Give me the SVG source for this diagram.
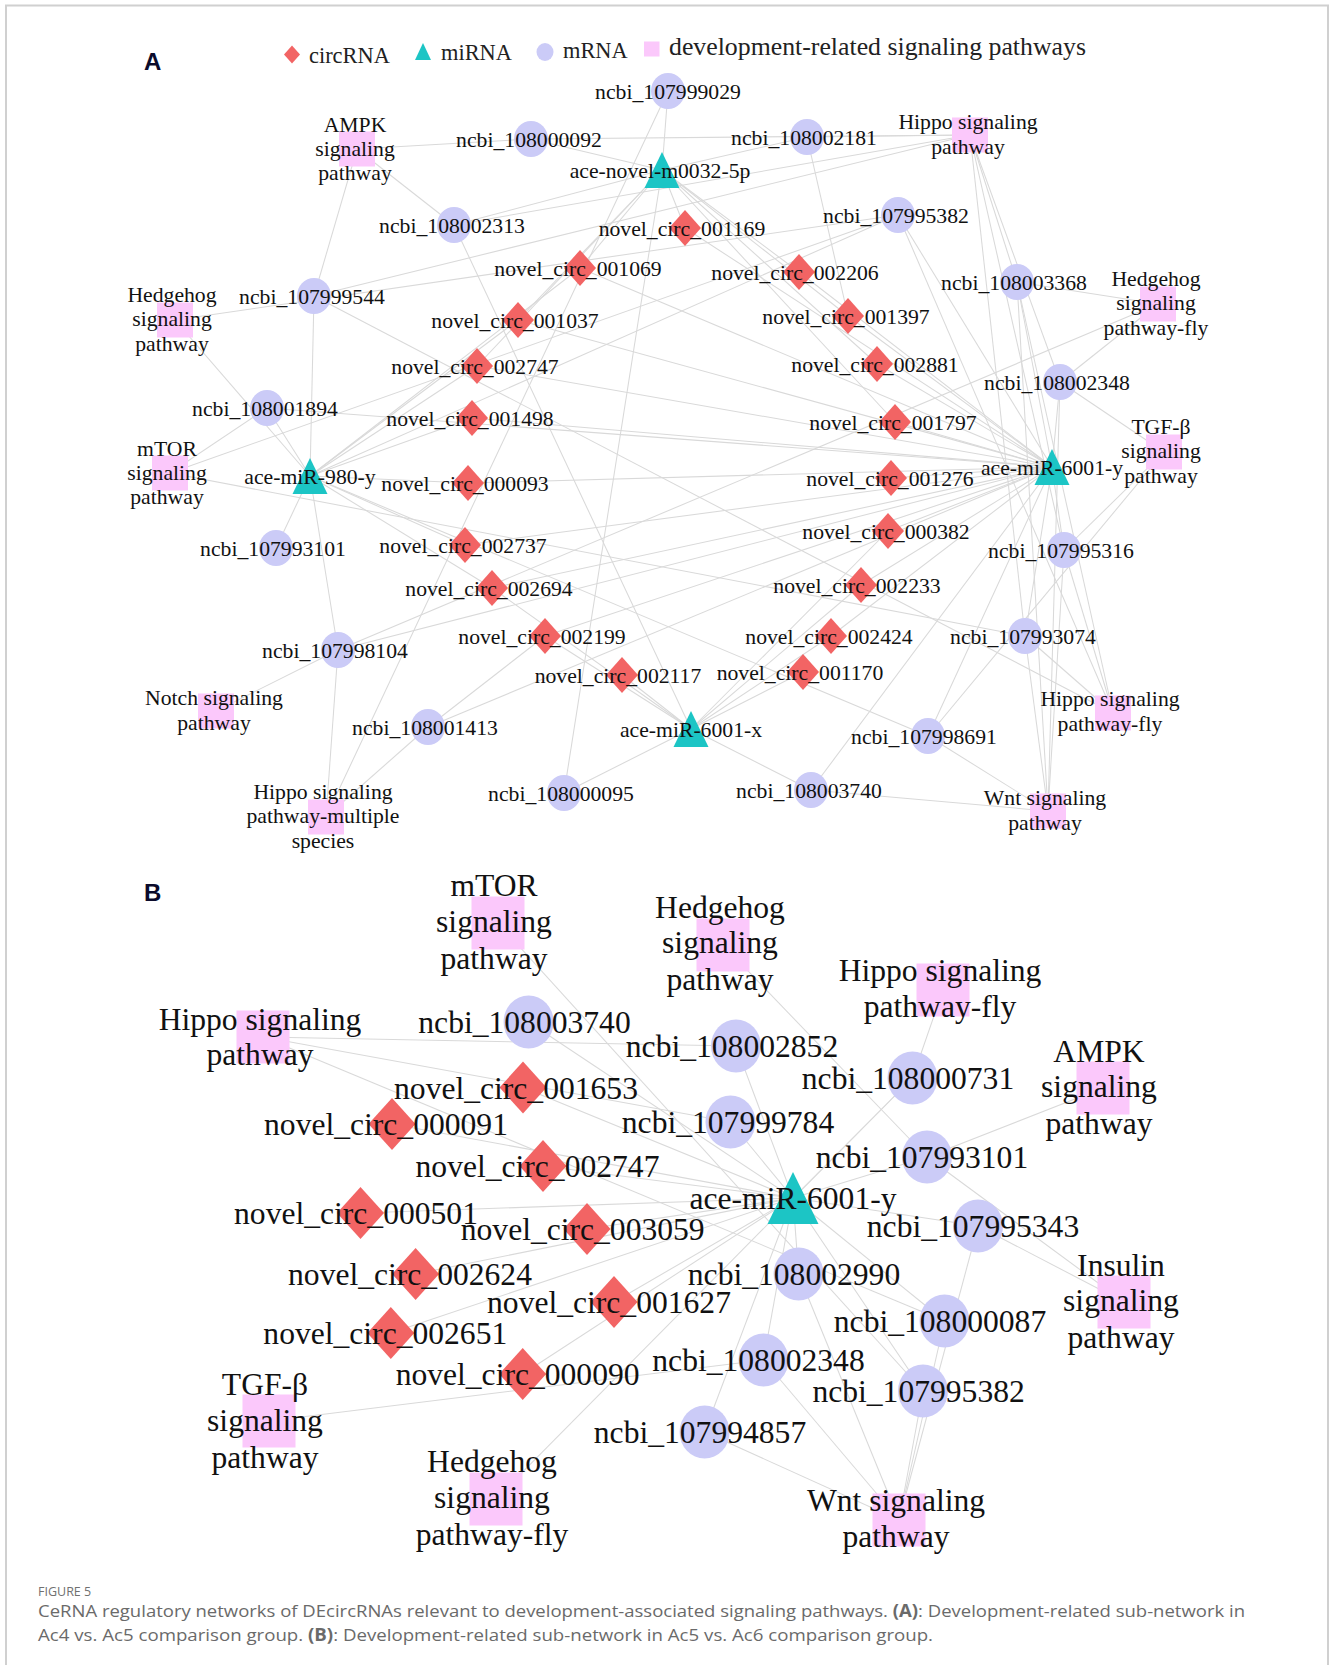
<svg xmlns="http://www.w3.org/2000/svg" xmlns:xlink="http://www.w3.org/1999/xlink" width="1330" height="1665" viewBox="0 0 1330 1665">
<style>
.e line{stroke:#d9d9d9;stroke-width:1.05}
.circ{fill:#f26464}
.mrna{fill:#cbcbf7}
.mir{fill:#1cc5c5}
.path{fill:#fbc8fb}
.la{font-family:"Liberation Serif","Times New Roman",serif;font-size:21.7px;text-anchor:middle;fill:#111}
.lb{font-family:"Liberation Serif","Times New Roman",serif;font-size:31.6px;text-anchor:middle;fill:#111}
.lg{font-family:"Liberation Serif","Times New Roman",serif;font-size:22.4px;fill:#222}
.pl{font-family:"Liberation Sans",Arial,sans-serif;font-weight:bold;font-size:24px;fill:#0b0b2b}
.cap{font-family:"Open Sans","Noto Sans",sans-serif;fill:#6a6a6a}
</style>
<defs>
<polygon id="dA" class="circ" points="0,-18 16,0 0,18 -16,0"/>
<ellipse id="cA" class="mrna" rx="17" ry="18"/>
<polygon id="tA" class="mir" points="0,-18 17.5,18 -17.5,18"/>
<rect id="sA" class="path" x="-18" y="-17.5" width="36" height="35"/>
<polygon id="dB" class="circ" points="0,-26 23.5,0 0,26 -23.5,0"/>
<ellipse id="cB" class="mrna" rx="25" ry="26.5"/>
<polygon id="tB" class="mir" points="0,-26 25.5,26 -25.5,26"/>
<rect id="sB" class="path" x="-26.5" y="-26.5" width="53" height="53"/>
</defs>
<rect x="0" y="0" width="1330" height="1665" fill="#fff"/>
<rect x="6" y="5.5" width="1322" height="1700" fill="none" stroke="#d0d0d0" stroke-width="2"/>

<!-- Panel labels -->
<text class="pl" x="144" y="70">A</text>
<text class="pl" x="144" y="901">B</text>

<!-- Legend -->
<g id="legend">
<polygon class="circ" points="292,45.5 300,54.5 292,63.5 284,54.5"/>
<text class="lg" x="309" y="62.5">circRNA</text>
<polygon class="mir" points="423,43 431,60 415,60"/>
<text class="lg" x="441" y="59.5">miRNA</text>
<ellipse class="mrna" cx="545" cy="52" rx="8.5" ry="9"/>
<text class="lg" x="563" y="57.5">mRNA</text>
<rect class="path" x="644" y="41.5" width="15.5" height="15"/>
<text class="lg" x="669" y="55" style="font-size:25.8px">development-related signaling pathways</text>
</g>

<!-- Connectors panel A -->
<g id="edges-A" class="e">
<line x1="662" y1="170" x2="668" y2="91"/><line x1="662" y1="170" x2="531" y2="139"/><line x1="662" y1="170" x2="807" y2="137"/><line x1="662" y1="170" x2="454" y2="225"/><line x1="662" y1="170" x2="564" y2="793"/><line x1="662" y1="170" x2="685" y2="228"/><line x1="662" y1="170" x2="580" y2="268"/><line x1="662" y1="170" x2="799" y2="272"/><line x1="662" y1="170" x2="848" y2="316"/><line x1="662" y1="170" x2="877" y2="364"/><line x1="662" y1="170" x2="518" y2="320"/><line x1="662" y1="170" x2="895" y2="422"/><line x1="662" y1="170" x2="477" y2="366"/>
<line x1="1052" y1="467" x2="685" y2="228"/><line x1="1052" y1="467" x2="580" y2="268"/><line x1="1052" y1="467" x2="799" y2="272"/><line x1="1052" y1="467" x2="518" y2="320"/><line x1="1052" y1="467" x2="848" y2="316"/><line x1="1052" y1="467" x2="477" y2="366"/><line x1="1052" y1="467" x2="877" y2="364"/><line x1="1052" y1="467" x2="472" y2="418"/><line x1="1052" y1="467" x2="895" y2="422"/><line x1="1052" y1="467" x2="468" y2="483"/><line x1="1052" y1="467" x2="891" y2="478"/><line x1="1052" y1="467" x2="465" y2="545"/><line x1="1052" y1="467" x2="888" y2="531"/><line x1="1052" y1="467" x2="492" y2="588"/><line x1="1052" y1="467" x2="861" y2="585"/><line x1="1052" y1="467" x2="545" y2="636"/><line x1="1052" y1="467" x2="831" y2="636"/><line x1="1052" y1="467" x2="1060" y2="382"/><line x1="1052" y1="467" x2="1017" y2="282"/><line x1="1052" y1="467" x2="1064" y2="550"/><line x1="1052" y1="467" x2="1025" y2="636"/><line x1="1052" y1="467" x2="928" y2="736"/><line x1="1052" y1="467" x2="898" y2="215"/><line x1="1052" y1="467" x2="811" y2="790"/><line x1="1052" y1="467" x2="338" y2="650"/><line x1="1052" y1="467" x2="428" y2="727"/><line x1="1052" y1="467" x2="267" y2="408"/>
<line x1="310" y1="476" x2="314" y2="296"/><line x1="310" y1="476" x2="267" y2="408"/><line x1="310" y1="476" x2="276" y2="548"/><line x1="310" y1="476" x2="338" y2="650"/><line x1="310" y1="476" x2="898" y2="215"/><line x1="310" y1="476" x2="928" y2="736"/><line x1="310" y1="476" x2="477" y2="366"/><line x1="310" y1="476" x2="472" y2="418"/><line x1="310" y1="476" x2="468" y2="483"/><line x1="310" y1="476" x2="465" y2="545"/><line x1="310" y1="476" x2="580" y2="268"/><line x1="310" y1="476" x2="518" y2="320"/><line x1="310" y1="476" x2="492" y2="588"/><line x1="310" y1="476" x2="175" y2="320"/>
<line x1="691" y1="729" x2="564" y2="793"/><line x1="691" y1="729" x2="811" y2="790"/><line x1="691" y1="729" x2="454" y2="225"/><line x1="691" y1="729" x2="622" y2="675"/><line x1="691" y1="729" x2="545" y2="636"/><line x1="691" y1="729" x2="803" y2="672"/><line x1="691" y1="729" x2="831" y2="636"/><line x1="691" y1="729" x2="861" y2="585"/><line x1="691" y1="729" x2="888" y2="531"/><line x1="691" y1="729" x2="492" y2="588"/>
<line x1="357" y1="149" x2="531" y2="139"/><line x1="357" y1="149" x2="454" y2="225"/><line x1="357" y1="149" x2="314" y2="296"/>
<line x1="970" y1="135" x2="454" y2="225"/><line x1="970" y1="135" x2="314" y2="296"/><line x1="970" y1="135" x2="531" y2="139"/><line x1="970" y1="135" x2="807" y2="137"/><line x1="970" y1="135" x2="1017" y2="282"/><line x1="970" y1="135" x2="1060" y2="382"/><line x1="970" y1="135" x2="1064" y2="550"/><line x1="970" y1="135" x2="1025" y2="636"/>
<line x1="175" y1="320" x2="898" y2="215"/>
<line x1="1158" y1="304" x2="1060" y2="382"/><line x1="1158" y1="304" x2="338" y2="650"/><line x1="1158" y1="304" x2="1017" y2="282"/>
<line x1="170" y1="473" x2="267" y2="408"/><line x1="170" y1="473" x2="898" y2="215"/><line x1="170" y1="473" x2="1025" y2="636"/>
<line x1="1164" y1="452" x2="1060" y2="382"/><line x1="1164" y1="452" x2="1064" y2="550"/><line x1="1164" y1="452" x2="928" y2="736"/>
<line x1="216" y1="711" x2="338" y2="650"/>
<line x1="1113" y1="713" x2="1025" y2="636"/><line x1="1113" y1="713" x2="1064" y2="550"/><line x1="1113" y1="713" x2="1017" y2="282"/><line x1="1113" y1="713" x2="898" y2="215"/><line x1="1113" y1="713" x2="314" y2="296"/>
<line x1="326" y1="817" x2="338" y2="650"/><line x1="326" y1="817" x2="428" y2="727"/><line x1="326" y1="817" x2="668" y2="91"/>
<line x1="1048" y1="811" x2="811" y2="790"/><line x1="1048" y1="811" x2="928" y2="736"/><line x1="1048" y1="811" x2="1025" y2="636"/><line x1="1048" y1="811" x2="1064" y2="550"/><line x1="1048" y1="811" x2="1060" y2="382"/><line x1="1048" y1="811" x2="1017" y2="282"/>
<line x1="807" y1="137" x2="848" y2="316"/><line x1="428" y1="727" x2="545" y2="636"/>
</g>

<!-- Connectors panel B -->
<g id="edges-B" class="e">
<line x1="793" y1="1198" x2="523" y2="1087.5"/><line x1="793" y1="1198" x2="392" y2="1124"/><line x1="793" y1="1198" x2="543" y2="1166"/><line x1="793" y1="1198" x2="360.5" y2="1213"/><line x1="793" y1="1198" x2="587" y2="1229"/><line x1="793" y1="1198" x2="415.6" y2="1274"/><line x1="793" y1="1198" x2="614" y2="1302"/><line x1="793" y1="1198" x2="390.8" y2="1333"/><line x1="793" y1="1198" x2="522.7" y2="1374"/>
<line x1="793" y1="1198" x2="528.6" y2="1022"/><line x1="793" y1="1198" x2="736" y2="1046"/><line x1="793" y1="1198" x2="912.5" y2="1078"/><line x1="793" y1="1198" x2="730.5" y2="1122"/><line x1="793" y1="1198" x2="927" y2="1157"/><line x1="793" y1="1198" x2="978" y2="1226"/><line x1="793" y1="1198" x2="798.6" y2="1274"/><line x1="793" y1="1198" x2="944.5" y2="1321"/><line x1="793" y1="1198" x2="763.5" y2="1360"/><line x1="793" y1="1198" x2="923" y2="1391"/><line x1="793" y1="1198" x2="704.6" y2="1432"/>
<line x1="263" y1="1037" x2="736" y2="1046"/><line x1="263" y1="1037" x2="730.5" y2="1122"/><line x1="263" y1="1037" x2="944.5" y2="1321"/>
<line x1="498" y1="923" x2="923" y2="1391"/>
<line x1="723" y1="945" x2="927" y2="1157"/>
<line x1="943" y1="990" x2="912.5" y2="1078"/>
<line x1="1103" y1="1088" x2="927" y2="1157"/>
<line x1="1124" y1="1302" x2="978" y2="1226"/><line x1="1124" y1="1302" x2="927" y2="1157"/>
<line x1="899" y1="1520" x2="923" y2="1391"/><line x1="899" y1="1520" x2="944.5" y2="1321"/><line x1="899" y1="1520" x2="978" y2="1226"/><line x1="899" y1="1520" x2="704.6" y2="1432"/><line x1="899" y1="1520" x2="763.5" y2="1360"/><line x1="899" y1="1520" x2="798.6" y2="1274"/>
<line x1="269" y1="1421" x2="763.5" y2="1360"/>
<line x1="496" y1="1499" x2="912.5" y2="1078"/>
</g>

<!-- Panel A nodes -->
<g id="a-ncbi_107999029"><use href="#cA" x="668" y="91"/><text class="la" x="668" y="98.5">ncbi_107999029</text></g>
<g id="a-ncbi_108000092"><use href="#cA" x="531" y="139"/><text class="la" x="529" y="146.5">ncbi_108000092</text></g>
<g id="a-ncbi_108002181"><use href="#cA" x="807" y="137"/><text class="la" x="804" y="144.5">ncbi_108002181</text></g>
<g id="a-ncbi_108002313"><use href="#cA" x="454" y="225"/><text class="la" x="452" y="232.5">ncbi_108002313</text></g>
<g id="a-ncbi_107995382"><use href="#cA" x="898" y="215"/><text class="la" x="896" y="222.5">ncbi_107995382</text></g>
<g id="a-ncbi_107999544"><use href="#cA" x="314" y="296"/><text class="la" x="312" y="303.5">ncbi_107999544</text></g>
<g id="a-ncbi_108003368"><use href="#cA" x="1017" y="282"/><text class="la" x="1014" y="289.5">ncbi_108003368</text></g>
<g id="a-ncbi_108001894"><use href="#cA" x="267" y="408"/><text class="la" x="265" y="415.5">ncbi_108001894</text></g>
<g id="a-ncbi_108002348"><use href="#cA" x="1060" y="382"/><text class="la" x="1057" y="389.5">ncbi_108002348</text></g>
<g id="a-ncbi_107993101"><use href="#cA" x="276" y="548"/><text class="la" x="273" y="555.5">ncbi_107993101</text></g>
<g id="a-ncbi_107995316"><use href="#cA" x="1064" y="550"/><text class="la" x="1061" y="557.5">ncbi_107995316</text></g>
<g id="a-ncbi_107998104"><use href="#cA" x="338" y="650"/><text class="la" x="335" y="657.5">ncbi_107998104</text></g>
<g id="a-ncbi_107993074"><use href="#cA" x="1025" y="636"/><text class="la" x="1023" y="643.5">ncbi_107993074</text></g>
<g id="a-ncbi_108001413"><use href="#cA" x="428" y="727"/><text class="la" x="425" y="734.5">ncbi_108001413</text></g>
<g id="a-ncbi_107998691"><use href="#cA" x="928" y="736"/><text class="la" x="924" y="743.5">ncbi_107998691</text></g>
<g id="a-ncbi_108000095"><use href="#cA" x="564" y="793"/><text class="la" x="561" y="800.5">ncbi_108000095</text></g>
<g id="a-ncbi_108003740"><use href="#cA" x="811" y="790"/><text class="la" x="809" y="797.5">ncbi_108003740</text></g>

<g id="a-ace-novel-m0032-5p"><use href="#tA" x="662" y="170"/><text class="la" x="660" y="177.5">ace-novel-m0032-5p</text></g>
<g id="a-ace-miR-980-y"><use href="#tA" x="310" y="476"/><text class="la" x="310" y="483.5">ace-miR-980-y</text></g>
<g id="a-ace-miR-6001-y"><use href="#tA" x="1052" y="467"/><text class="la" x="1052" y="474.5">ace-miR-6001-y</text></g>
<g id="a-ace-miR-6001-x"><use href="#tA" x="691" y="729"/><text class="la" x="691" y="736.5">ace-miR-6001-x</text></g>

<g id="a-novel_circ_001169"><use href="#dA" x="685" y="228"/><text class="la" x="682" y="235.5">novel_circ_001169</text></g>
<g id="a-novel_circ_001069"><use href="#dA" x="580" y="268"/><text class="la" x="578" y="275.5">novel_circ_001069</text></g>
<g id="a-novel_circ_002206"><use href="#dA" x="799" y="272"/><text class="la" x="795" y="279.5">novel_circ_002206</text></g>
<g id="a-novel_circ_001037"><use href="#dA" x="518" y="320"/><text class="la" x="515" y="327.5">novel_circ_001037</text></g>
<g id="a-novel_circ_001397"><use href="#dA" x="848" y="316"/><text class="la" x="846" y="323.5">novel_circ_001397</text></g>
<g id="a-novel_circ_002747"><use href="#dA" x="477" y="366"/><text class="la" x="475" y="373.5">novel_circ_002747</text></g>
<g id="a-novel_circ_002881"><use href="#dA" x="877" y="364"/><text class="la" x="875" y="371.5">novel_circ_002881</text></g>
<g id="a-novel_circ_001498"><use href="#dA" x="472" y="418"/><text class="la" x="470" y="425.5">novel_circ_001498</text></g>
<g id="a-novel_circ_001797"><use href="#dA" x="895" y="422"/><text class="la" x="893" y="429.5">novel_circ_001797</text></g>
<g id="a-novel_circ_000093"><use href="#dA" x="468" y="483"/><text class="la" x="465" y="490.5">novel_circ_000093</text></g>
<g id="a-novel_circ_001276"><use href="#dA" x="891" y="478"/><text class="la" x="890" y="485.5">novel_circ_001276</text></g>
<g id="a-novel_circ_002737"><use href="#dA" x="465" y="545"/><text class="la" x="463" y="552.5">novel_circ_002737</text></g>
<g id="a-novel_circ_000382"><use href="#dA" x="888" y="531"/><text class="la" x="886" y="538.5">novel_circ_000382</text></g>
<g id="a-novel_circ_002694"><use href="#dA" x="492" y="588"/><text class="la" x="489" y="595.5">novel_circ_002694</text></g>
<g id="a-novel_circ_002233"><use href="#dA" x="861" y="585"/><text class="la" x="857" y="592.5">novel_circ_002233</text></g>
<g id="a-novel_circ_002199"><use href="#dA" x="545" y="636"/><text class="la" x="542" y="643.5">novel_circ_002199</text></g>
<g id="a-novel_circ_002424"><use href="#dA" x="831" y="636"/><text class="la" x="829" y="643.5">novel_circ_002424</text></g>
<g id="a-novel_circ_002117"><use href="#dA" x="622" y="675"/><text class="la" x="618" y="682.5">novel_circ_002117</text></g>
<g id="a-novel_circ_001170"><use href="#dA" x="803" y="672"/><text class="la" x="800" y="679.5">novel_circ_001170</text></g>

<g id="a-AMPK"><use href="#sA" x="357" y="149"/><text class="la" x="355" y="131.5">AMPK<tspan x="355" y="155.5">signaling</tspan><tspan x="355" y="179.5">pathway</tspan></text></g>
<g id="a-Hippo"><use href="#sA" x="970" y="135"/><text class="la" x="968" y="128.5">Hippo signaling<tspan x="968" y="154">pathway</tspan></text></g>
<g id="a-Hedgehog"><use href="#sA" x="175" y="320"/><text class="la" x="172" y="302">Hedgehog<tspan x="172" y="326">signaling</tspan><tspan x="172" y="350.5">pathway</tspan></text></g>
<g id="a-Hedgehog-fly"><use href="#sA" x="1158" y="304"/><text class="la" x="1156" y="286">Hedgehog<tspan x="1156" y="310">signaling</tspan><tspan x="1156" y="334.5">pathway-fly</tspan></text></g>
<g id="a-mTOR"><use href="#sA" x="170" y="473"/><text class="la" x="167" y="455.5">mTOR<tspan x="167" y="479.5">signaling</tspan><tspan x="167" y="503.5">pathway</tspan></text></g>
<g id="a-TGF-beta"><use href="#sA" x="1164" y="452"/><text class="la" x="1161" y="434">TGF-β<tspan x="1161" y="458">signaling</tspan><tspan x="1161" y="482.5">pathway</tspan></text></g>
<g id="a-Notch"><use href="#sA" x="216" y="711"/><text class="la" x="214" y="704.5">Notch signaling<tspan x="214" y="729.5">pathway</tspan></text></g>
<g id="a-Hippo-fly"><use href="#sA" x="1113" y="713"/><text class="la" x="1110" y="706">Hippo signaling<tspan x="1110" y="731">pathway-fly</tspan></text></g>
<g id="a-Hippo-multiple"><use href="#sA" x="326" y="817"/><text class="la" x="323" y="799">Hippo signaling<tspan x="323" y="823">pathway-multiple</tspan><tspan x="323" y="847.5">species</tspan></text></g>
<g id="a-Wnt"><use href="#sA" x="1048" y="811"/><text class="la" x="1045" y="804.5">Wnt signaling<tspan x="1045" y="830">pathway</tspan></text></g>

<!-- Panel B nodes -->
<g id="b-mTOR"><use href="#sB" x="498" y="923"/><text class="lb" x="494" y="896">mTOR<tspan x="494" y="932">signaling</tspan><tspan x="494" y="969">pathway</tspan></text></g>
<g id="b-Hedgehog"><use href="#sB" x="723" y="945"/><text class="lb" x="720" y="918">Hedgehog<tspan x="720" y="953">signaling</tspan><tspan x="720" y="990">pathway</tspan></text></g>
<g id="b-Hippo-fly"><use href="#sB" x="943" y="990"/><text class="lb" x="940" y="981">Hippo signaling<tspan x="940" y="1017">pathway-fly</tspan></text></g>
<g id="b-Hippo"><use href="#sB" x="263" y="1037"/><text class="lb" x="260" y="1030">Hippo signaling<tspan x="260" y="1065">pathway</tspan></text></g>
<g id="b-AMPK"><use href="#sB" x="1103" y="1088"/><text class="lb" x="1099" y="1062">AMPK<tspan x="1099" y="1097">signaling</tspan><tspan x="1099" y="1134">pathway</tspan></text></g>
<g id="b-Insulin"><use href="#sB" x="1124" y="1302"/><text class="lb" x="1121" y="1276">Insulin<tspan x="1121" y="1311">signaling</tspan><tspan x="1121" y="1348">pathway</tspan></text></g>
<g id="b-TGF-beta"><use href="#sB" x="269" y="1421"/><text class="lb" x="265" y="1395">TGF-β<tspan x="265" y="1431">signaling</tspan><tspan x="265" y="1468">pathway</tspan></text></g>
<g id="b-Hedgehog-fly"><use href="#sB" x="496" y="1499"/><text class="lb" x="492" y="1472">Hedgehog<tspan x="492" y="1508">signaling</tspan><tspan x="492" y="1545">pathway-fly</tspan></text></g>
<g id="b-Wnt"><use href="#sB" x="899" y="1520"/><text class="lb" x="896" y="1511">Wnt signaling<tspan x="896" y="1547">pathway</tspan></text></g>

<g id="b-ncbi_108003740"><use href="#cB" x="528.6" y="1022"/><text class="lb" x="524.5" y="1033">ncbi_108003740</text></g>
<g id="b-ncbi_108002852"><use href="#cB" x="736" y="1046"/><text class="lb" x="732" y="1057">ncbi_108002852</text></g>
<g id="b-ncbi_108000731"><use href="#cB" x="912.5" y="1078"/><text class="lb" x="908" y="1089">ncbi_108000731</text></g>
<g id="b-ncbi_107999784"><use href="#cB" x="730.5" y="1122"/><text class="lb" x="728" y="1133">ncbi_107999784</text></g>
<g id="b-ncbi_107993101"><use href="#cB" x="927" y="1157"/><text class="lb" x="922" y="1168">ncbi_107993101</text></g>
<g id="b-ncbi_107995343"><use href="#cB" x="978" y="1226"/><text class="lb" x="973" y="1237">ncbi_107995343</text></g>
<g id="b-ncbi_108002990"><use href="#cB" x="798.6" y="1274"/><text class="lb" x="794" y="1285">ncbi_108002990</text></g>
<g id="b-ncbi_108000087"><use href="#cB" x="944.5" y="1321"/><text class="lb" x="940" y="1332">ncbi_108000087</text></g>
<g id="b-ncbi_108002348"><use href="#cB" x="763.5" y="1360"/><text class="lb" x="758.5" y="1371">ncbi_108002348</text></g>
<g id="b-ncbi_107995382"><use href="#cB" x="923" y="1391"/><text class="lb" x="918.6" y="1402">ncbi_107995382</text></g>
<g id="b-ncbi_107994857"><use href="#cB" x="704.6" y="1432"/><text class="lb" x="700" y="1443">ncbi_107994857</text></g>

<g id="b-ace-miR-6001-y"><use href="#tB" x="793" y="1198"/><text class="lb" x="793" y="1209">ace-miR-6001-y</text></g>

<g id="b-novel_circ_001653"><use href="#dB" x="523" y="1087.5"/><text class="lb" x="516" y="1098.5">novel_circ_001653</text></g>
<g id="b-novel_circ_000091"><use href="#dB" x="392" y="1124"/><text class="lb" x="386" y="1135">novel_circ_000091</text></g>
<g id="b-novel_circ_002747"><use href="#dB" x="543" y="1166"/><text class="lb" x="537.5" y="1177">novel_circ_002747</text></g>
<g id="b-novel_circ_000501"><use href="#dB" x="360.5" y="1213"/><text class="lb" x="356" y="1224">novel_circ_000501</text></g>
<g id="b-novel_circ_003059"><use href="#dB" x="587" y="1229"/><text class="lb" x="582.7" y="1240">novel_circ_003059</text></g>
<g id="b-novel_circ_002624"><use href="#dB" x="415.6" y="1274"/><text class="lb" x="410" y="1285">novel_circ_002624</text></g>
<g id="b-novel_circ_001627"><use href="#dB" x="614" y="1302"/><text class="lb" x="609" y="1313">novel_circ_001627</text></g>
<g id="b-novel_circ_002651"><use href="#dB" x="390.8" y="1333"/><text class="lb" x="385.3" y="1344">novel_circ_002651</text></g>
<g id="b-novel_circ_000090"><use href="#dB" x="522.7" y="1374"/><text class="lb" x="517.6" y="1385">novel_circ_000090</text></g>

<!-- Caption -->
<g id="caption">
<text class="cap" x="38" y="1596" style="font-size:12.5px;fill:#707070">FIGURE 5</text>
<text class="cap" x="38" y="1617" style="font-size:17px" textLength="1207" lengthAdjust="spacingAndGlyphs">CeRNA regulatory networks of DEcircRNAs relevant to development-associated signaling pathways. <tspan font-weight="bold">(A)</tspan>: Development-related sub-network in</text>
<text class="cap" x="38" y="1641" style="font-size:17px" textLength="895" lengthAdjust="spacingAndGlyphs">Ac4 vs. Ac5 comparison group. <tspan font-weight="bold">(B)</tspan>: Development-related sub-network in Ac5 vs. Ac6 comparison group.</text>
</g>
</svg>
